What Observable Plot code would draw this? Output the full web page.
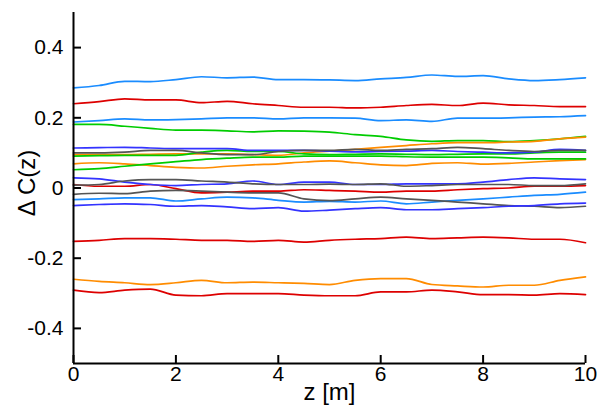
<!DOCTYPE html>
<html><head><meta charset="utf-8">
<script src="https://cdn.jsdelivr.net/npm/d3@7"></script>
<script src="https://cdn.jsdelivr.net/npm/@observablehq/plot@0.6"></script>
<style>html,body{margin:0;padding:0;background:#fff}</style>
</head><body><div id="chart"></div>
<script>
// positions along the line (m)
const z = [0,0.5,1,1.5,2,2.5,3,3.5,4,4.5,5,5.5,6,6.5,7,7.5,8,8.5,9,9.5,10];

// ΔC(z), one array per curve
const lblue1  = [0.285,0.292,0.304,0.303,0.309,0.317,0.314,0.316,0.309,0.309,0.308,0.306,0.311,0.315,0.322,0.318,0.320,0.311,0.306,0.309,0.314];
const red1    = [0.240,0.246,0.254,0.251,0.251,0.243,0.247,0.240,0.235,0.230,0.230,0.228,0.230,0.235,0.238,0.235,0.242,0.237,0.235,0.232,0.232];
const lblue2  = [0.188,0.192,0.197,0.194,0.195,0.197,0.200,0.200,0.197,0.200,0.200,0.199,0.192,0.194,0.190,0.199,0.199,0.200,0.202,0.203,0.206];
const green1  = [0.181,0.181,0.176,0.170,0.165,0.165,0.163,0.160,0.163,0.162,0.159,0.152,0.147,0.137,0.133,0.135,0.135,0.132,0.135,0.140,0.147];
const blue1   = [0.114,0.115,0.116,0.114,0.112,0.112,0.112,0.107,0.107,0.107,0.105,0.103,0.104,0.105,0.107,0.104,0.102,0.100,0.102,0.110,0.107];
const gray1   = [0.100,0.100,0.102,0.107,0.107,0.100,0.095,0.095,0.104,0.107,0.107,0.110,0.107,0.110,0.112,0.116,0.112,0.107,0.104,0.107,0.107];
const orange1 = [0.095,0.095,0.095,0.096,0.097,0.097,0.097,0.095,0.093,0.100,0.105,0.110,0.116,0.121,0.126,0.129,0.129,0.131,0.133,0.140,0.145];
const green2  = [0.091,0.092,0.093,0.093,0.093,0.102,0.107,0.104,0.104,0.097,0.095,0.096,0.097,0.096,0.095,0.096,0.097,0.097,0.100,0.102,0.102];
const orange2 = [0.069,0.072,0.069,0.064,0.059,0.057,0.062,0.066,0.069,0.074,0.077,0.072,0.066,0.064,0.070,0.072,0.068,0.070,0.074,0.078,0.081];
const green3  = [0.052,0.055,0.062,0.069,0.075,0.081,0.085,0.088,0.088,0.091,0.091,0.091,0.091,0.089,0.088,0.088,0.088,0.086,0.083,0.083,0.083];
const blue2   = [0.029,0.026,0.017,0.010,0.007,0.010,0.012,0.020,0.010,0.017,0.017,0.010,0.010,0.012,0.012,0.012,0.017,0.024,0.029,0.026,0.024];
const gray2   = [0.008,0.010,0.020,0.024,0.024,0.020,0.017,0.012,0.010,0.010,0.011,0.010,0.012,0.005,0.007,0.010,0.010,0.010,0.007,0.007,0.012];
const red2    = [0.010,0.005,0.005,0.010,-0.002,-0.014,-0.012,-0.009,-0.009,-0.005,-0.007,-0.009,-0.012,-0.009,-0.009,-0.005,-0.002,0.000,0.005,0.005,0.007];
const gray3   = [-0.018,-0.015,-0.016,-0.009,-0.007,-0.009,-0.012,-0.014,-0.014,-0.031,-0.036,-0.031,-0.026,-0.031,-0.035,-0.040,-0.045,-0.050,-0.052,-0.056,-0.052];
const lblue3  = [-0.033,-0.031,-0.028,-0.028,-0.037,-0.031,-0.026,-0.028,-0.035,-0.040,-0.038,-0.040,-0.037,-0.045,-0.040,-0.035,-0.031,-0.026,-0.021,-0.018,-0.012];
const blue3   = [-0.050,-0.047,-0.045,-0.047,-0.052,-0.050,-0.054,-0.059,-0.056,-0.066,-0.063,-0.059,-0.056,-0.062,-0.062,-0.059,-0.056,-0.052,-0.050,-0.045,-0.043];
const red3    = [-0.152,-0.149,-0.144,-0.144,-0.146,-0.149,-0.149,-0.152,-0.149,-0.154,-0.149,-0.146,-0.144,-0.140,-0.144,-0.142,-0.140,-0.142,-0.146,-0.146,-0.156];
const orange3 = [-0.260,-0.266,-0.270,-0.275,-0.270,-0.263,-0.270,-0.268,-0.270,-0.272,-0.275,-0.263,-0.258,-0.258,-0.275,-0.279,-0.282,-0.277,-0.277,-0.263,-0.253];
const red4    = [-0.291,-0.298,-0.291,-0.288,-0.305,-0.307,-0.301,-0.301,-0.301,-0.305,-0.307,-0.307,-0.296,-0.296,-0.291,-0.296,-0.304,-0.304,-0.305,-0.301,-0.304];

const xTicks = [0,2,4,6,8,10];
const yTicks = [-0.4,-0.2,0,0.2,0.4];
const yTickLabels = ["-0.4","-0.2","0","0.2","0.4"];
const xLabel = "z [m]";
const yLabel = "Δ C(z)";

const palette = {lblue:"#1a8cff", red:"#dd0000", green:"#00cc00", blue:"#3333ff", gray:"#555555", orange:"#ff8c00"};
const series = [
  [lblue1,"lblue"],[red1,"red"],[lblue2,"lblue"],[green1,"green"],[orange1,"orange"],[green2,"green"],
  [orange2,"orange"],[green3,"green"],[blue1,"blue"],[gray1,"gray"],[red2,"red"],[lblue3,"lblue"],
  [blue2,"blue"],[gray2,"gray"],[gray3,"gray"],[blue3,"blue"],[red3,"red"],[orange3,"orange"],[red4,"red"]
];

const lineMarks = series.map(([vals, col]) =>
  Plot.line(vals.map((v,i)=>({z:z[i], c:v})), {x:"z", y:"c", stroke: palette[col], strokeWidth:1.7, curve:"monotone-x"})
);

const plot = Plot.plot({
  width:600, height:405,
  marginLeft:73, marginRight:15, marginTop:12, marginBottom:42,
  style:{fontFamily:"'Liberation Sans', Arial, sans-serif", fontSize:"20px", background:"#fff", color:"#000"},
  x:{domain:[0,10]},
  y:{domain:[-0.5,0.5]},
  marks:[
    ...lineMarks,
    Plot.ruleX([0], {stroke:"#000", strokeWidth:2}),
    Plot.ruleY([-0.5], {stroke:"#000", strokeWidth:2}),
    Plot.axisY(yTicks, {tickSize:8, tickPadding:2, strokeWidth:2, fontSize:21, label:null, tickFormat:(d)=>yTickLabels[yTicks.indexOf(d)]}),
    Plot.axisX(xTicks, {tickSize:8, tickPadding:-5, strokeWidth:2, fontSize:21, label:null, tickFormat:d=>String(d)}),
    Plot.text([yLabel], {frameAnchor:"left", dx:-46, dy:-5, rotate:-90, fontSize:24, textAnchor:"middle", lineAnchor:"middle"}),
    Plot.text([xLabel], {frameAnchor:"bottom", dy:29, fontSize:24, textAnchor:"middle", lineAnchor:"middle"})
  ]
});
// ticks point inward, as in the reference
d3.select(plot).selectAll('g[aria-label="x-axis tick"] path').attr("d","M0,0L0,-8");
d3.select(plot).selectAll('g[aria-label="y-axis tick"] path').attr("d","M0,0L8,0");
document.getElementById("chart").appendChild(plot);
</script>
</body></html>
